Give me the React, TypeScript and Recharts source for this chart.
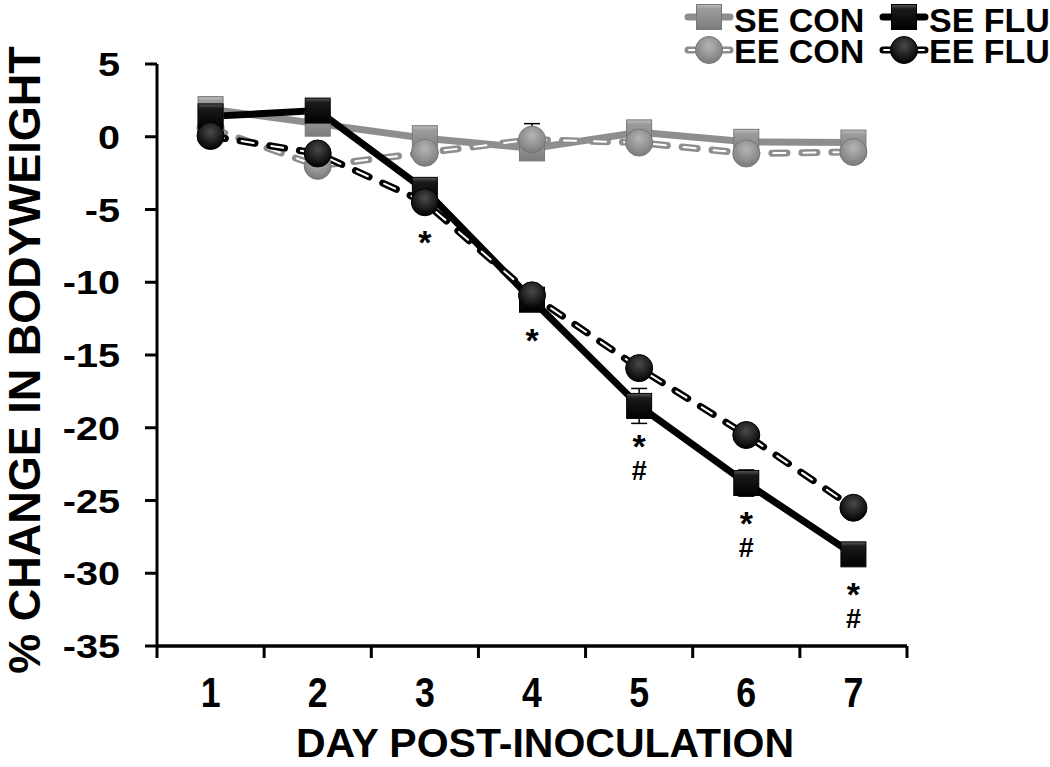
import React from 'react';
import { LineChart, Line, XAxis, YAxis, ErrorBar, LabelList, Label, Legend } from 'recharts';

// ---- data ----
const days = [1, 2, 3, 4, 5, 6, 7];
const seCon = [1.9, 0.9, -0.1, -0.8, 0.3, -0.35, -0.4];
const eeCon = [0.6, -2.0, -1.1, -0.2, -0.4, -1.15, -1.05];
const seFlu = [1.4, 1.8, -3.65, -11.2, -18.5, -23.8, -28.7];
const eeFlu = [0.05, -1.15, -4.5, -10.9, -15.9, -20.5, -25.5];
const seConErr = [0.4, 0.4, 0.4, 0.4, 0.4, 0.4, 0.4];
const eeConErr = [0.4, 0.4, 0.4, 1.1, 0.4, 0.4, 0.4];
const seFluErr = [0.4, 0.4, 0.4, 0.5, 1.2, 0.9, 0.5];
const eeFluErr = [0.4, 0.4, 0.4, 0.5, 0.5, 0.5, 0.5];
const starMarks = ['', '', '*', '*', '*', '*', '*'];
const hashMarks = ['', '', '', '', '#', '#', '#'];
const yTicks = [-35, -30, -25, -20, -15, -10, -5, 0, 5];
const xBoundaryTicks = [0.5, 1.5, 2.5, 3.5, 4.5, 5.5, 6.5, 7.5];
const legendLabels = ['SE CON', 'SE FLU', 'EE CON', 'EE FLU'];

const data = days.map((d, i) => ({
  day: d,
  seCon: seCon[i],
  eeCon: eeCon[i],
  seFlu: seFlu[i],
  eeFlu: eeFlu[i],
  seConErr: seConErr[i],
  eeConErr: eeConErr[i],
  seFluErr: seFluErr[i],
  eeFluErr: eeFluErr[i],
}));

const FONT = '"Liberation Sans", Arial, Helvetica, sans-serif';
const GREY = '#8e8e8e';

function Marker({ cx, cy, shape, tone }: any) {
  if (cx == null || cy == null) return null;
  if (shape === 'square') {
    return (
      <rect
        x={cx - 12.5}
        y={cy - 12.5}
        width={25}
        height={25}
        fill={`url(#sq-${tone})`}
        stroke={tone === 'grey' ? '#777' : '#000'}
        strokeWidth={1}
      />
    );
  }
  return (
    <circle
      cx={cx}
      cy={cy}
      r={13.5}
      fill={`url(#ci-${tone})`}
      stroke={tone === 'grey' ? '#777' : '#000'}
      strokeWidth={1}
    />
  );
}

const dotFn = (shape: string, tone: string) => (props: any) => (
  <Marker key={`${shape}-${tone}-${props.index}`} cx={props.cx} cy={props.cy} shape={shape} tone={tone} />
);

const lowestKey = (i: number) => (seFlu[i] <= eeFlu[i] ? 'seFlu' : 'eeFlu');

const annoFn = (key: string) => (props: any) => {
  const { x, y, index } = props;
  if (x == null || y == null) return null;
  if (lowestKey(index) !== key) return null;
  if (!starMarks[index] && !hashMarks[index]) return null;
  return (
    <text
      key={`anno-${key}-${index}`}
      x={x}
      y={y + 52}
      textAnchor="middle"
      fontFamily={FONT}
      fontWeight="bold"
      fill="#000"
    >
      <tspan x={x} fontSize={34}>{starMarks[index]}</tspan>
      {hashMarks[index] && (
        <tspan x={x} dy={22} fontSize={27}>{hashMarks[index]}</tspan>
      )}
    </text>
  );
};

const YTick = ({ x, y, payload }: any) => (
  <g transform={`translate(${x},${y})`}>
    <text
      x={0}
      y={0}
      dy={12}
      textAnchor="end"
      transform="scale(1.2,1)"
      fontFamily={FONT}
      fontWeight="bold"
      fontSize={33}
      fill="#000"
    >
      {payload.value}
    </text>
  </g>
);

const XTick = ({ x, y, payload, width }: any) => {
  const v = payload.value;
  if (v >= days[days.length - 1] + 0.5) return null;
  const half = width / days.length / 2;
  return (
    <g transform={`translate(${x + half},${y})`}>
      <text
        x={0}
        y={0}
        dy={47}
        textAnchor="middle"
        transform="scale(0.85,1)"
        fontFamily={FONT}
        fontWeight="bold"
        fontSize={42}
        fill="#000"
      >
        {v + 0.5}
      </text>
    </g>
  );
};

const YTitle = (props: any) => {
  const vb = props.viewBox;
  const cx = vb.x + 40;
  const cy = vb.y + vb.height / 2 + 5;
  return (
    <text
      x={cx}
      y={cy}
      transform={`rotate(-90, ${cx}, ${cy})`}
      textAnchor="middle"
      fontFamily={FONT}
      fontWeight="bold"
      fontSize={45}
      fill="#000"
    >
      % CHANGE IN BODYWEIGHT
    </text>
  );
};

const XTitle = (props: any) => {
  const vb = props.viewBox;
  return (
    <text
      x={vb.x + vb.width / 2 + 13}
      y={vb.y + 111}
      textAnchor="middle"
      fontFamily={FONT}
      fontWeight="bold"
      fontSize={41}
      fill="#000"
    >
      DAY POST-INOCULATION
    </text>
  );
};

const legendStyles = [
  { shape: 'square', tone: 'grey', dashed: false },
  { shape: 'square', tone: 'black', dashed: false },
  { shape: 'circle', tone: 'grey', dashed: true },
  { shape: 'circle', tone: 'black', dashed: true },
];

const LegendContent = () => {
  const cells = legendLabels.map((label, i) => {
    const st = legendStyles[i];
    const col = i % 2;
    const row = Math.floor(i / 2);
    const x0 = col === 0 ? 5 : 200;
    const cy = row === 0 ? 17 : 50;
    const baseline = row === 0 ? 32 : 63;
    const color = st.tone === 'grey' ? GREY : '#000';
    return (
      <g key={label}>
        <line x1={x0 + 3} x2={x0 + 45} y1={cy} y2={cy} stroke={color} strokeWidth={7} strokeLinecap="round" />
        {st.dashed && (
          <line x1={x0 + 4} x2={x0 + 44} y1={cy} y2={cy} stroke="#fff" strokeWidth={2} strokeLinecap="round" />
        )}
        <Marker cx={x0 + 24} cy={cy} shape={st.shape} tone={st.tone} />
        <text x={x0 + 49} y={baseline} fontFamily={FONT} fontWeight="bold" fontSize={34} fill="#000">
          {label}
        </text>
      </g>
    );
  });
  return (
    <svg width={370} height={72} style={{ display: 'block' }}>
      {cells}
    </svg>
  );
};

export default function App() {
  return (
    <div style={{ position: 'absolute', left: 0, top: 0, width: 1050, height: 767, background: '#fff' }}>
      <LineChart
        width={1050}
        height={767}
        data={data}
        margin={{ top: 64, right: 143, bottom: 0, left: 0 }}
      >
        <defs>
          <linearGradient id="sq-grey" x1="0" y1="0" x2="0" y2="1">
            <stop offset="0%" stopColor="#bdbdbd" />
            <stop offset="18%" stopColor="#9c9c9c" />
            <stop offset="100%" stopColor="#7c7c7c" />
          </linearGradient>
          <linearGradient id="sq-black" x1="0" y1="0" x2="0" y2="1">
            <stop offset="0%" stopColor="#5a5a5a" />
            <stop offset="18%" stopColor="#1a1a1a" />
            <stop offset="100%" stopColor="#000" />
          </linearGradient>
          <radialGradient id="ci-grey" cx="50%" cy="35%" r="65%">
            <stop offset="0%" stopColor="#b5b5b5" />
            <stop offset="100%" stopColor="#7a7a7a" />
          </radialGradient>
          <radialGradient id="ci-black" cx="50%" cy="35%" r="65%">
            <stop offset="0%" stopColor="#4a4a4a" />
            <stop offset="100%" stopColor="#000" />
          </radialGradient>
        </defs>
        <XAxis
          dataKey="day"
          type="number"
          domain={[0.5, 7.5]}
          ticks={xBoundaryTicks}
          interval={0}
          height={121}
          tick={<XTick />}
          tickSize={12}
          tickLine={{ stroke: '#000', strokeWidth: 3 }}
          axisLine={{ stroke: '#000', strokeWidth: 3.5 }}
        >
          <Label content={<XTitle />} />
        </XAxis>
        <YAxis
          type="number"
          domain={[-35, 5]}
          ticks={yTicks}
          interval={0}
          width={157}
          tick={<YTick />}
          tickSize={12}
          tickMargin={25}
          tickLine={{ stroke: '#000', strokeWidth: 3 }}
          axisLine={{ stroke: '#000', strokeWidth: 3 }}
        >
          <Label content={<YTitle />} />
        </YAxis>
        <Legend
          layout="vertical"
          align="center"
          verticalAlign="middle"
          content={<LegendContent />}
          wrapperStyle={{ position: 'absolute', left: 680, top: 0, width: 370, height: 72 }}
        />

        {/* SE CON */}
        <Line
          dataKey="seCon"
          stroke={GREY}
          strokeWidth={7}
          dot={dotFn('square', 'grey')}
          activeDot={false}
          isAnimationActive={false}
        >
          <ErrorBar dataKey="seConErr" direction="y" width={8} stroke="#000" strokeWidth={1.5} />
        </Line>

        {/* EE CON outer dashes */}
        <Line
          dataKey="eeCon"
          stroke={GREY}
          strokeWidth={7}
          strokeDasharray="15 15"
          strokeLinecap="round"
          dot={false}
          activeDot={false}
          legendType="none"
          isAnimationActive={false}
        />
        {/* EE CON inner stripe + markers */}
        <Line
          dataKey="eeCon"
          stroke="#fff"
          strokeWidth={2}
          strokeDasharray="12 18"
          strokeDashoffset={-1.5}
          strokeLinecap="round"
          dot={dotFn('circle', 'grey')}
          activeDot={false}
          isAnimationActive={false}
        >
          <ErrorBar dataKey="eeConErr" direction="y" width={8} stroke="#000" strokeWidth={1.5} />
        </Line>

        {/* SE FLU */}
        <Line
          dataKey="seFlu"
          stroke="#000"
          strokeWidth={7}
          dot={dotFn('square', 'black')}
          activeDot={false}
          isAnimationActive={false}
        >
          <ErrorBar dataKey="seFluErr" direction="y" width={8} stroke="#000" strokeWidth={1.5} />
          <LabelList dataKey="seFlu" content={annoFn('seFlu')} />
        </Line>

        {/* EE FLU outer dashes */}
        <Line
          dataKey="eeFlu"
          stroke="#000"
          strokeWidth={7}
          strokeDasharray="15 15"
          strokeLinecap="round"
          dot={false}
          activeDot={false}
          legendType="none"
          isAnimationActive={false}
        />
        {/* EE FLU inner stripe + markers */}
        <Line
          dataKey="eeFlu"
          stroke="#fff"
          strokeWidth={2}
          strokeDasharray="12 18"
          strokeDashoffset={-1.5}
          strokeLinecap="round"
          dot={dotFn('circle', 'black')}
          activeDot={false}
          isAnimationActive={false}
        >
          <ErrorBar dataKey="eeFluErr" direction="y" width={8} stroke="#000" strokeWidth={1.5} />
          <LabelList dataKey="eeFlu" content={annoFn('eeFlu')} />
        </Line>
      </LineChart>
    </div>
  );
}
